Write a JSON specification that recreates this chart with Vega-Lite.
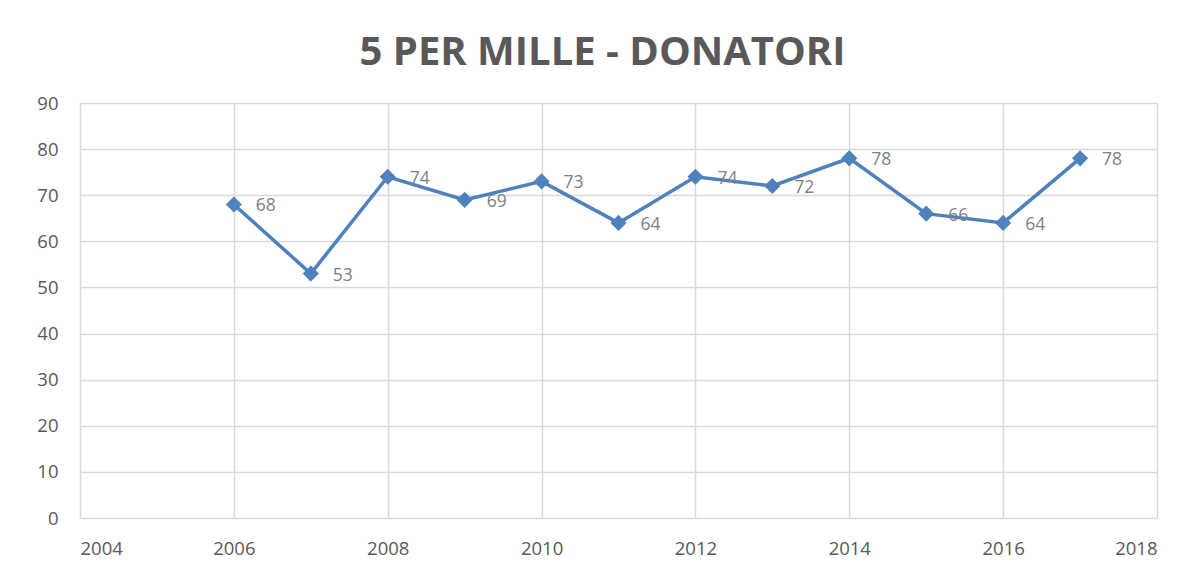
{
  "$schema": "https://vega.github.io/schema/vega-lite/v6.json",
  "autosize": {"type": "none"},
  "padding": {"left": 80, "top": 103, "right": 29, "bottom": 59},
  "width": 1077,
  "height": 415,
  "background": "white",
  "title": {
    "text": "5 PER MILLE - DONATORI",
    "font": "Open Sans",
    "fontSize": 40,
    "fontWeight": "bold",
    "color": "#595959",
    "anchor": "middle",
    "dx": -16,
    "offset": 21
  },
  "config": {
    "view": {"stroke": null},
    "axis": {
      "labelFont": "Open Sans",
      "labelFontSize": 18.5,
      "labelColor": "#595959",
      "gridColor": "#d9d9d9",
      "gridWidth": 1.5,
      "domain": false,
      "ticks": false,
      "title": null
    }
  },
  "data": {
    "values": [
      {"year": 2006, "value": 68},
      {"year": 2007, "value": 53},
      {"year": 2008, "value": 74},
      {"year": 2009, "value": 69},
      {"year": 2010, "value": 73},
      {"year": 2011, "value": 64},
      {"year": 2012, "value": 74},
      {"year": 2013, "value": 72},
      {"year": 2014, "value": 78},
      {"year": 2015, "value": 66},
      {"year": 2016, "value": 64},
      {"year": 2017, "value": 78}
    ]
  },
  "encoding": {
    "x": {
      "field": "year",
      "type": "quantitative",
      "scale": {"domain": [2004, 2018], "nice": false, "zero": false},
      "axis": {"values": [2004, 2006, 2008, 2010, 2012, 2014, 2016, 2018], "format": "d", "labelPadding": 21}
    },
    "y": {
      "field": "value",
      "type": "quantitative",
      "scale": {"domain": [0, 90], "nice": false},
      "axis": {"values": [0, 10, 20, 30, 40, 50, 60, 70, 80, 90], "labelPadding": 22}
    }
  },
  "layer": [
    {
      "mark": {"type": "line", "color": "#4f81bd", "strokeWidth": 3.5}
    },
    {
      "mark": {"type": "point", "shape": "diamond", "filled": true, "color": "#4f81bd", "size": 260, "opacity": 1}
    },
    {
      "mark": {"type": "text", "align": "left", "baseline": "middle", "dx": 22, "dy": 2, "font": "Open Sans", "fontSize": 17.5, "color": "#7f7f7f"},
      "encoding": {"text": {"field": "value", "type": "quantitative"}}
    }
  ]
}
